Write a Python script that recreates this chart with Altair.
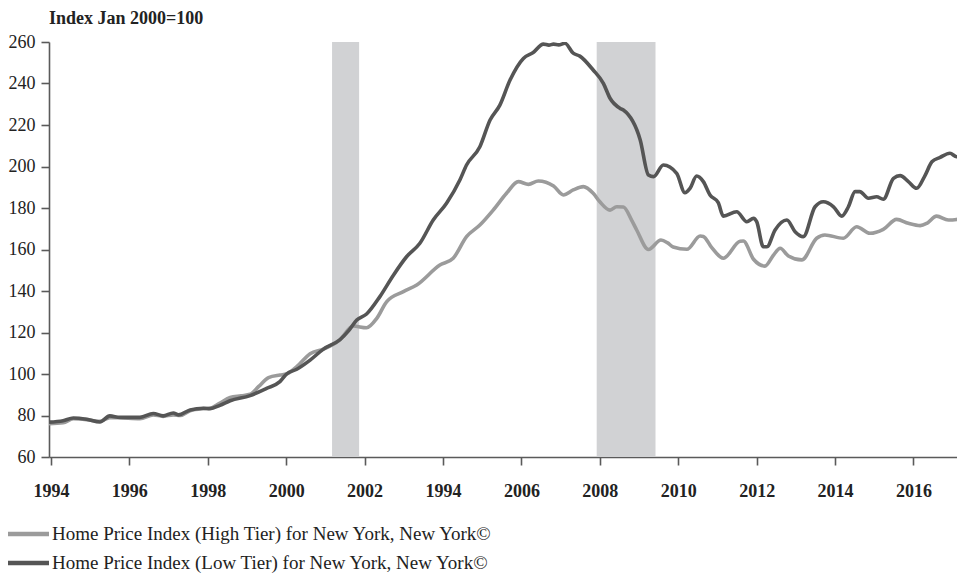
import altair as alt
import pandas as pd

# Low tier (dark) series
low_years = [1993.95, 1994.31, 1994.57, 1994.91, 1995.25, 1995.5, 1995.76, 1996.27, 1996.61, 1996.86,
             1997.12, 1997.25, 1997.55, 1997.89, 1998.06, 1998.31, 1998.57, 1999.08, 1999.5, 1999.84,
             2000.01, 2000.27, 2000.61, 2000.95, 2001.37, 2001.6, 2001.8, 2002.05, 2002.39, 2002.73,
             2003.07, 2003.41, 2003.75, 2004.09, 2004.43, 2004.6, 2004.94, 2005.2, 2005.45, 2005.71,
             2006.05, 2006.3, 2006.56, 2006.7, 2006.82, 2006.95, 2007.11, 2007.32, 2007.49, 2007.83,
             2008.09, 2008.26, 2008.52, 2008.6, 2009.03, 2009.24, 2009.37, 2009.62, 2009.96, 2010.17,
             2010.3, 2010.47, 2010.64, 2010.81, 2011.02, 2011.15, 2011.49, 2011.75, 2011.92, 2012.0,
             2012.17, 2012.26, 2012.47, 2012.77, 2012.98, 2013.19, 2013.49, 2013.7, 2013.96, 2014.17,
             2014.34, 2014.51, 2014.63, 2014.85, 2015.06, 2015.23, 2015.49, 2015.66, 2015.87, 2016.08,
             2016.3, 2016.47, 2016.68, 2016.93, 2017.1, 2017.32]
low_values = [76.8, 77.5, 78.8, 78.2, 76.9, 79.8, 79.1, 79.1, 81.0, 79.8,
              81.2, 80.3, 82.7, 83.5, 83.3, 84.9, 87.1, 89.6, 93.1, 96.3,
              100.0, 102.3, 106.7, 112.0, 116.5, 121.0, 126.0, 128.9, 137.3, 147.5,
              156.5, 163.0, 174.2, 182.3, 193.5, 200.7, 209.5, 222.4, 229.6, 241.7,
              252.1, 254.9, 259.0, 258.5, 259.0, 258.6, 259.4, 254.6, 253.2, 246.5,
              240.1, 232.9, 228.0, 227.2, 212.8, 195.9, 195.1, 200.7, 196.7, 187.4,
              189.5, 195.4, 192.7, 186.3, 182.6, 176.1, 178.2, 173.4, 175.0, 173.4,
              161.3, 161.3, 169.4, 174.2, 168.6, 166.2, 180.6, 183.0, 180.6, 176.1,
              180.6, 187.9, 187.9, 184.7, 185.4, 184.2, 194.3, 195.6, 192.7, 189.5,
              195.9, 202.3, 204.4, 206.4, 204.7, 208.8]

# High tier (light) series
high_years = [1993.95, 1994.31, 1994.57, 1994.91, 1995.25, 1995.5, 1995.76, 1996.27, 1996.61, 1996.86,
              1997.12, 1997.3, 1997.55, 1997.89, 1998.06, 1998.31, 1998.57, 1998.85, 1999.08, 1999.3,
              1999.55, 1999.84, 2000.01, 2000.27, 2000.61, 2000.95, 2001.37, 2001.71, 2002.05, 2002.31,
              2002.56, 2002.99, 2003.33, 2003.92, 2004.26, 2004.6, 2004.94, 2005.28, 2005.62, 2005.92,
              2006.18, 2006.43, 2006.82, 2007.07, 2007.32, 2007.58, 2007.83, 2008.0, 2008.26, 2008.43,
              2008.6, 2008.81, 2008.94, 2009.24, 2009.56, 2009.73, 2009.87, 2010.22, 2010.56, 2010.64,
              2010.85, 2011.15, 2011.58, 2011.66, 2011.92, 2012.21, 2012.43, 2012.6, 2012.81, 2013.15,
              2013.53, 2013.74, 2014.21, 2014.55, 2014.89, 2015.23, 2015.57, 2015.87, 2016.17, 2016.34,
              2016.59, 2016.89, 2017.1, 2017.32]
high_values = [76.0, 76.5, 78.4, 78.0, 77.2, 79.0, 78.9, 78.5, 80.3, 79.6,
               80.3, 80.0, 82.3, 83.3, 83.5, 86.0, 88.7, 89.5, 90.2, 94.0,
               98.3, 99.5, 100.0, 103.5, 109.8, 112.0, 116.5, 123.1, 122.3, 126.8,
               134.8, 139.7, 142.9, 152.5, 155.8, 166.2, 171.8, 179.0, 187.1, 192.7,
               191.4, 193.0, 190.6, 186.3, 188.7, 190.3, 187.1, 183.0, 179.0, 180.6,
               180.5, 174.2, 169.4, 160.0, 164.6, 163.2, 161.2, 160.1, 166.5, 166.3,
               161.0, 155.8, 164.0, 164.1, 155.3, 152.0, 157.3, 160.6, 156.9, 155.0,
               165.4, 167.0, 165.4, 171.0, 167.8, 169.7, 174.5, 172.6, 171.5, 172.6,
               176.1, 174.2, 174.5, 177.0]

series_names = ["Home Price Index (High Tier) for New York, New York©",
                "Home Price Index (Low Tier) for New York, New York©"]
series_colors = ["#9b9b9b", "#555555"]

recession_start = [2001.17, 2007.92]
recession_end = [2001.86, 2009.42]

tick_years = [1994, 1996, 1998, 2000, 2002, 2004, 2006, 2008, 2010, 2012, 2014, 2016]
y_ticks = [60, 80, 100, 120, 140, 160, 180, 200, 220, 240, 260]

rows = []
for yr, v in zip(high_years, high_values):
    rows.append({"year": yr, "value": v, "series": series_names[0]})
for yr, v in zip(low_years, low_values):
    rows.append({"year": yr, "value": v, "series": series_names[1]})
df = pd.DataFrame(rows)
rec = pd.DataFrame({"start": recession_start, "end": recession_end})

FONT = "Liberation Serif"
xscale = alt.Scale(domain=[1993.95, 2017.11], nice=False, zero=False)
yscale = alt.Scale(domain=[60, 260], nice=False, zero=False)

shade = alt.Chart(rec).mark_rect(color="#d1d2d4").encode(
    x=alt.X("start:Q", scale=xscale),
    x2="end:Q",
    y=alt.datum(60, scale=yscale),
    y2=alt.datum(260),
)

lines = alt.Chart(df).mark_line(strokeWidth=3.6, interpolate="monotone", clip=True).encode(
    x=alt.X("year:Q", scale=xscale,
            axis=alt.Axis(values=tick_years, title=None, grid=False,
                          labelExpr="datum.value == 2004 ? '1994' : format(datum.value, 'd')",
                          labelFont=FONT, labelFontSize=18, labelFontWeight="bold",
                          labelColor="#222222", tickSize=8, labelPadding=17,
                          domainColor="#5a5a5a", tickColor="#5a5a5a",
                          domainWidth=1.6, tickWidth=1.6)),
    y=alt.Y("value:Q", scale=yscale,
            axis=alt.Axis(values=y_ticks, title=None, grid=False,
                          labelFont=FONT, labelFontSize=18, labelColor="#222222",
                          tickSize=8, labelPadding=6,
                          domainColor="#5a5a5a", tickColor="#5a5a5a",
                          domainWidth=1.6, tickWidth=1.6)),
    color=alt.Color("series:N",
                    scale=alt.Scale(domain=series_names, range=series_colors),
                    legend=None),
)

# hand-drawn legend (two rows below the axis)
legend_rows = [492, 521]
legend_layers = []
for name, col, ly in zip(series_names, series_colors, legend_rows):
    ldf = pd.DataFrame({"label": [name]})
    legend_layers.append(
        alt.Chart(ldf).mark_rule(strokeWidth=4.5, color=col).encode(
            x=alt.value(-41), x2=alt.value(0), y=alt.value(ly))
    )
    legend_layers.append(
        alt.Chart(ldf).mark_text(align="left", baseline="middle", font=FONT, fontSize=19,
                                 color="#222222").encode(
            x=alt.value(3), y=alt.value(ly), text="label:N")
    )

chart = alt.layer(shade, lines, *legend_layers).properties(
    width=908, height=415,
    autosize=alt.AutoSizeParams(type="none"),
    padding={"left": 41, "top": 34, "right": 0, "bottom": 125},
    title=alt.TitleParams("Index Jan 2000=100", anchor="start", frame="group",
                          font=FONT, fontSize=18, fontWeight="bold", color="#222222",
                          offset=5),
).configure_view(stroke=None)

chart.save("out.html", embed_options={"renderer": "svg", "actions": False})
